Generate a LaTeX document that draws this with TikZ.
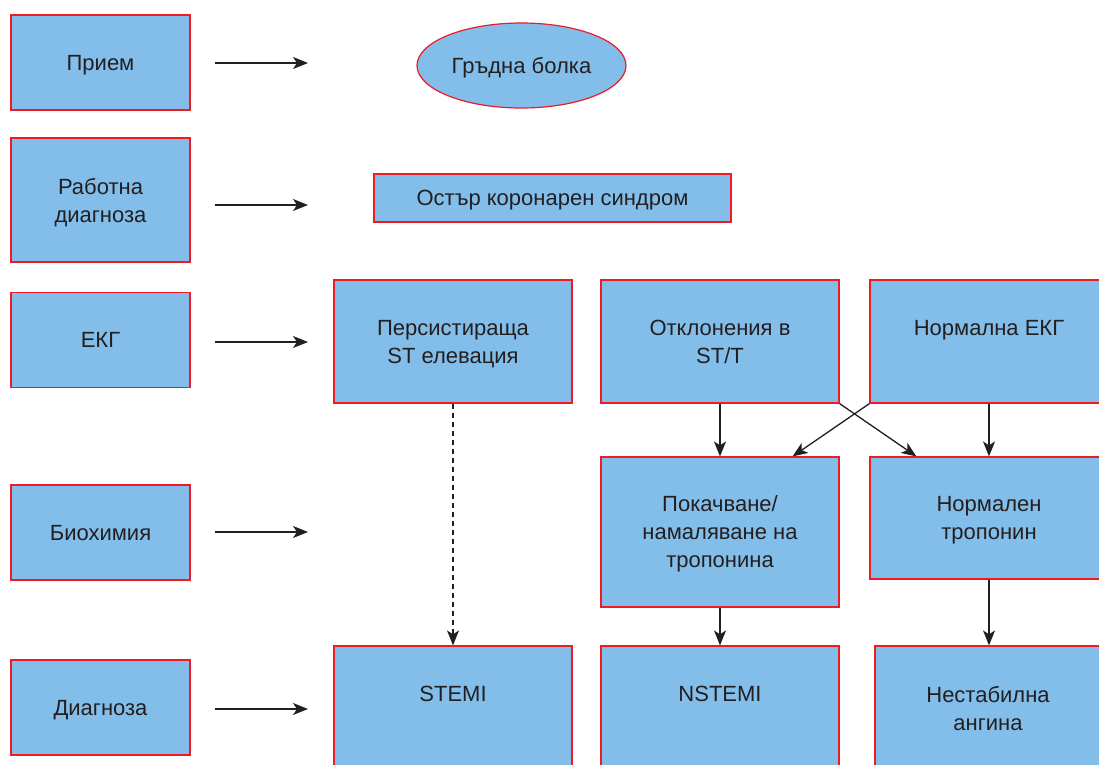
\documentclass[tikz,border=0pt]{standalone}
\usepackage{fontspec}
\setmainfont{Liberation Sans}
\usetikzlibrary{arrows.meta,shapes.geometric}
\definecolor{boxblue}{RGB}{130,190,233}
\definecolor{boxred}{RGB}{237,28,36}
\definecolor{ink}{RGB}{35,31,32}

\begin{document}
\begin{tikzpicture}[x=1pt,y=-1pt,
  box/.style={draw=boxred,fill=boxblue,line width=1.2pt,text=ink,align=center,
    font=\fontsize{22}{28}\selectfont,inner sep=0pt,text depth=-5pt},
  stage/.style={box,minimum width=179pt,minimum height=95pt},
  wide/.style={box,minimum width=238pt,minimum height=123pt},
  arr/.style={-{Stealth[length=15pt,width=12pt,inset=4pt]},line width=1.3pt,draw=ink}]
  \clip (0,0) rectangle (1099,764);

  % stages on the left
  \node[stage] (priem) at (100.5,62.5) {Прием};
  \node[stage,minimum height=124pt] (rabotna) at (100.5,200) {Работна\\диагноза};
  \node[stage] (ekg) at (100.5,340) {ЕКГ};
  \node[stage] (bio) at (100.5,532.5) {Биохимия};
  \node[stage] (diag) at (100.5,707.5) {Диагноза};
  \foreach \n/\y in {priem/63, rabotna/205, ekg/342, bio/532, diag/709} {
    \coordinate (\n-from) at (215,\y);
    \coordinate (\n-to) at (308,\y);
    \draw[arr] (\n-from) -- (\n-to);
  }

  \node[box,ellipse,text depth=0pt,minimum width=209pt,minimum height=85pt] (bolka) at (521.5,65.5) {Гръдна болка};
  \node[box,minimum width=357pt,minimum height=48pt] (oks) at (552.5,198) {Остър коронарен синдром};

  % ECG row
  \node[wide] (st) at (453,341.5) {Персистираща\\ST елевация};
  \node[wide] (stt) at (720,341.5) {Отклонения в\\ST/T};
  \node[wide] (norm) at (989,341.5) {Нормална ЕКГ\\~};

  % troponin row
  \node[wide,minimum height=150pt] (rise) at (720,532) {Покачване/\\намаляване на\\тропонина};
  \node[wide,minimum height=122pt] (normtrop) at (989,518) {Нормален\\тропонин};

  % diagnoses
  \node[wide,minimum height=124pt] (stemi) at (453,708) {STEMI\\~};
  \node[wide,minimum height=124pt] (nstemi) at (720,708) {NSTEMI\\~};
  \node[wide,minimum width=226pt,minimum height=124pt] (unstable) at (988,708) {Нестабилна\\ангина};

  \draw[arr,dash pattern=on 5pt off 4pt] (st.south) -- (stemi.north);
  \draw[arr] (stt.south) -- (rise.north);
  \draw[arr] (norm.south) -- (normtrop.north);
  \draw[arr] (stt.south east) -- ([xshift=47pt]normtrop.north west);
  \draw[arr] (norm.south west) -- ([xshift=-47pt]rise.north east);
  \draw[arr] (rise.south) -- (nstemi.north);
  \draw[arr] (normtrop.south) -- (normtrop.south |- unstable.north);
\end{tikzpicture}
\end{document}
